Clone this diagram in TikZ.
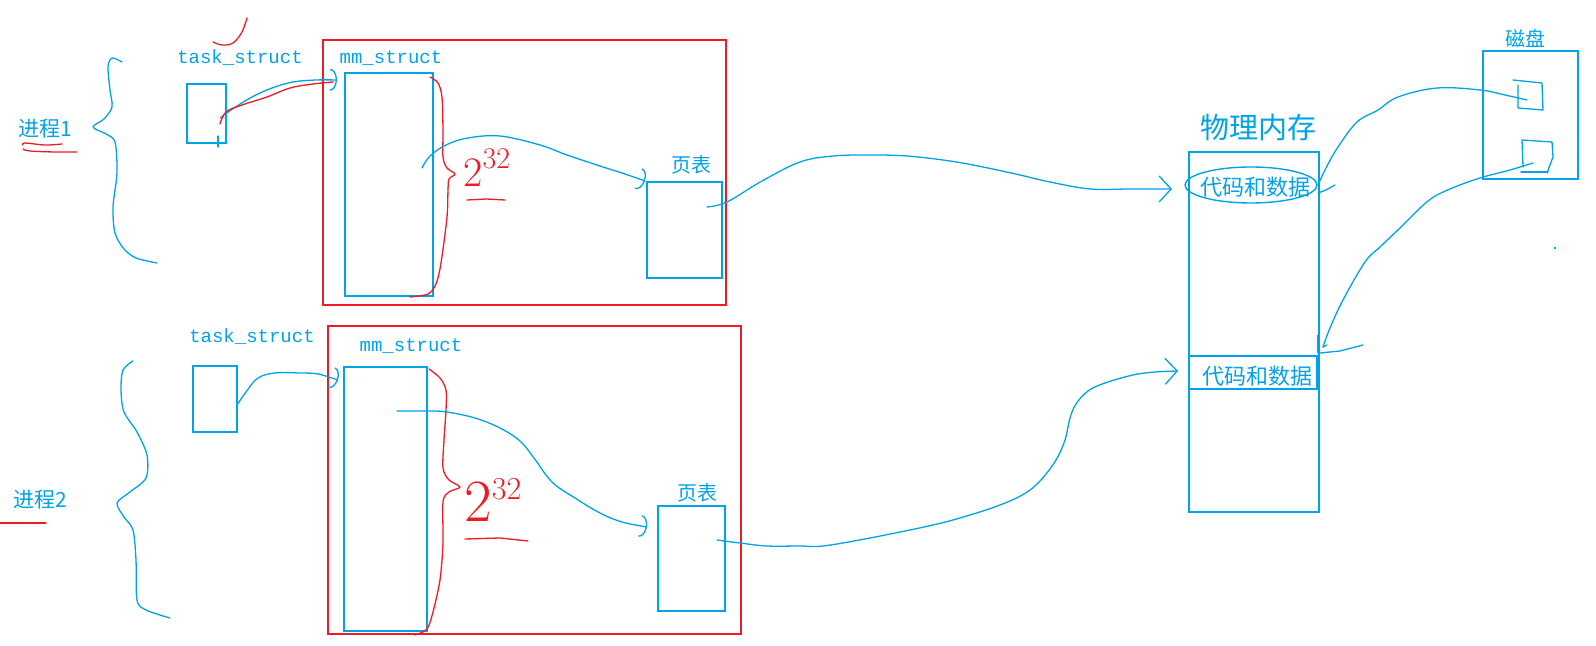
\documentclass[tikz,border=0pt]{standalone}
\usepackage{fontspec}
\newfontfamily\cjk{Noto Sans CJK SC}
\newfontfamily\monof{Liberation Mono}
\usetikzlibrary{arrows.meta,fit,shapes.geometric}
\definecolor{pblue}{RGB}{0,162,232}
\definecolor{pred}{RGB}{237,28,36}
\tikzset{
  box/.style={draw=pblue, line width=1.25pt, inner sep=0pt, outer sep=0pt},
  rbox/.style={draw=pred, line width=1.3pt, inner sep=0pt, outer sep=0pt},
  hand/.style={pblue, line width=0.65pt, line cap=round, line join=round},
  rhand/.style={pred, line width=0.65pt, line cap=round, line join=round},
  mono/.style={text=pblue, font=\monof\fontsize{9.5pt}{11pt}\selectfont, inner sep=0pt},
  cn/.style={text=pblue, font=\cjk\fontsize{10pt}{12pt}\selectfont, inner sep=0pt},
  arctip/.style={-{Arc Barb[width=11pt,length=3.5pt]}},
  bartip/.style={-{Straight Barb[width=13pt,length=6pt]}},
  pow/.style={text=pred, inner sep=0pt}
}
\begin{document}
\begin{tikzpicture}[x=0.5pt,y=-0.5pt]
\useasboundingbox (0,0) rectangle (1596,646);

% ---------- boxes ----------
\node[rbox, fit={(323,40)(726,305)}] (rb1) {};
\node[rbox, fit={(328,326)(741,634)}] (rb2) {};
\node[box, fit={(187,84)(226,143)}] (ts1) {};
\node[box, fit={(193,366)(237,432)}] (ts2) {};
\node[box, fit={(345,73)(433,296)}] (mm1) {};
\node[box, fit={(344,367)(427,631)}] (mm2) {};
\node[box, fit={(647,182)(722,278)}] (pt1) {};
\node[box, fit={(658,506)(725,611)}] (pt2) {};
\node[box, fit={(1189,152)(1319,512)}] (mem) {};
\node[box, fit={(1189,356)(1317,389)}] (cd2) {};
\node[box, fit={(1483,51)(1578,179)}] (disk) {};
\node[draw=pblue, line width=0.7pt, ellipse, inner sep=0pt, minimum width=66pt, minimum height=18pt] (ell) at (1251,185) {};

% ---------- labels ----------
\node[mono] (ts1l) at (240,58) {task\_struct};
\node[mono] (ts2l) at (252,337) {task\_struct};
\node[mono] (mm1l) at (391,58) {mm\_struct};
\node[mono] (mm2l) at (411,346) {mm\_struct};
\node[cn] (pt1l) at (691,165) {页表};
\node[cn] (pt2l) at (697,493) {页表};
\node[cn, font=\cjk\fontsize{10.5pt}{12pt}\selectfont] (p1) at (45,129) {进程1};
\node[cn, font=\cjk\fontsize{10.5pt}{12pt}\selectfont] (p2) at (40,500) {进程2};
\node[cn, font=\cjk\fontsize{14.5pt}{16pt}\selectfont] (meml) at (1258,128) {物理内存};
\node[cn, font=\cjk\fontsize{11pt}{12pt}\selectfont] (cd1t) at (1255,187) {代码和数据};
\node[cn, font=\cjk\fontsize{11pt}{12pt}\selectfont] (cd2t) at (1257,376) {代码和数据};
\node[cn] (diskl) at (1525,39) {磁盘};

% ---------- red 2^32 ----------
\node[pow, anchor=base west] (pw1) at (463,187) {\fontsize{21pt}{22pt}\selectfont 2\raisebox{9pt}{\fontsize{15pt}{16pt}\selectfont 32}};
\node[pow, anchor=base west] (pw2) at (464,522) {\fontsize{30pt}{31pt}\selectfont 2\raisebox{11pt}{\fontsize{16pt}{17pt}\selectfont 32}};
\draw[rhand] (467,200) -- (486,199) -- (505,200);
\draw[rhand] (465,539) -- (500,538) -- (528,541);

% ---------- red marks ----------
\draw[rhand] plot[smooth, tension=0.6] coordinates {(213,42) (222,45) (233,43) (242,32) (247,18)};
\draw[rhand] plot[smooth, tension=0.6] coordinates {(23,145) (25,143) (45,145) (62,144)};
\draw[rhand] plot[smooth, tension=0.6] coordinates {(23,149) (30,151) (55,152) (77,152)};
\draw[rhand] (0,523) -- (46,523);

% red braces
\draw[rhand] plot[smooth, tension=0.5] coordinates {(430,77) (438,83) (442,97) (443,130) (443,157) (447,168) (455,174) (449,179) (448,190) (447,217) (441,263) (436,284) (428,294) (410,297)};
\draw[rhand] plot[smooth, tension=0.5] coordinates {(429,369) (440,378) (446,390) (446,410) (444,440) (443,468) (449,480) (460,487) (449,492) (443,502) (443,543) (440,580) (433,612) (427,629) (415,635)};

% ---------- blue braces ----------
\draw[hand] plot[smooth, tension=0.5] coordinates {(122,62) (112,58) (108,67) (110,90) (112,107) (104,119) (93,127) (106,134) (115,142) (117,173) (113,207) (115,233) (124,249) (136,258) (157,263)};
\draw[hand] plot[smooth, tension=0.5] coordinates {(133,361) (123,370) (121,390) (124,412) (137,432) (147,455) (146,478) (130,492) (117,503) (124,517) (133,530) (136,560) (137,600) (146,610) (170,618)};

% ---------- connectors ----------
\coordinate (a1) at (220,118);
\coordinate (a1e) at (337,80);
\draw[hand, arctip] plot[smooth, tension=0.6] coordinates {(a1) (234,108) (252,97) (272,88) (293,82) (316,80) (a1e)};
\draw[rhand] plot[smooth, tension=0.6] coordinates {(220,124) (226,112) (242,105) (267,97) (290,88) (313,84) (333,82)};
\draw[hand] (218,136) -- (218,147);

\coordinate (b1) at (422,168);
\coordinate (b1e) at (645,181);
\draw[hand, arctip] plot[smooth, tension=0.6] coordinates {(b1) (430,156) (446,145) (468,138) (500,136) (540,145) (567,155) (600,166) (625,174) (b1e)};

\coordinate (c1) at (707,207);
\coordinate (c1e) at (1172,189);
\draw[hand, bartip] plot[smooth, tension=0.6] coordinates {(c1) (727,202) (762,181) (800,162) (833,156) (870,155) (907,156) (950,161) (983,167) (1020,175) (1050,182) (1090,189) (1130,189) (c1e)};

\coordinate (d1) at (237,405);
\coordinate (d1e) at (338,380);
\draw[hand, arctip] plot[smooth, tension=0.6] coordinates {(d1) (246,392) (258,378) (275,373) (300,373) (318,374) (d1e)};

\coordinate (e1) at (397,411);
\coordinate (e1e) at (647,527);
\draw[hand, arctip] plot[smooth, tension=0.6] coordinates {(e1) (430,411) (447,412) (475,418) (500,428) (520,441) (534,458) (552,482) (575,498) (600,513) (622,522) (e1e)};

\coordinate (f1) at (717,540);
\coordinate (f1e) at (1178,371);
\draw[hand, bartip] plot[smooth, tension=0.6] coordinates {(f1) (740,543) (767,546) (800,546) (823,546) (870,538) (933,525) (970,515) (1000,505) (1024,494) (1040,481) (1056,460) (1065,440) (1070,418) (1076,404) (1088,391) (1105,383) (1133,375) (1155,372) (f1e)};

\coordinate (g1) at (1318,185);
\coordinate (g1e) at (1527,100);
\draw[hand] plot[smooth, tension=0.6] coordinates {(g1) (1326,168) (1338,147) (1357,122) (1378,110) (1398,97) (1437,88) (1480,90) (1505,95) (g1e)};
\draw[hand] (1318,193) -- (1326,190) -- (1335,185);

\coordinate (h1) at (1533,163);
\coordinate (h1e) at (1323,347);
\draw[hand] plot[smooth, tension=0.6] coordinates {(h1) (1510,170) (1480,178) (1450,189) (1428,201) (1400,228) (1380,247) (1365,262) (1343,300) (1330,328) (h1e)};
\draw[hand] (1323,347) -- (1327,345);
\draw[hand] (1320,353) -- (1340,351) -- (1363,345);
\draw[pblue, line width=1.25pt] (1318,335) -- (1318,353);

% disk contents
\draw[hand] (1513,80) -- (1542,83) -- (1543,110) -- (1518,108) -- (1518,85);
\draw[hand] (1523,167) -- (1522,140) -- (1552,142) -- (1553,157) -- (1547,173);
\draw[hand] (1521,172) -- (1548,172);
\fill[pblue] (1554,247) rectangle (1556,249);
\end{tikzpicture}
\end{document}
